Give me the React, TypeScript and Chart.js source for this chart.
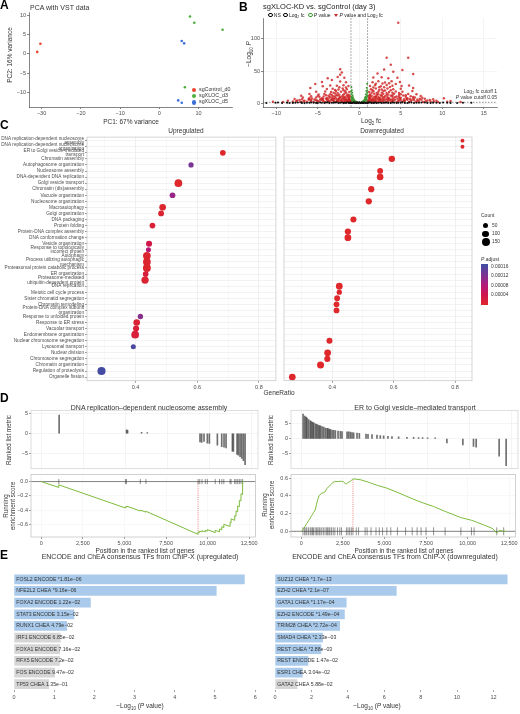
import React, { useEffect, useRef } from 'react';
import { Chart, registerables } from 'chart.js';

Chart.register(...registerables);

const FONT = '"Liberation Sans", Arial, Helvetica, sans-serif';
Chart.defaults.font.family = FONT;
Chart.defaults.color = '#4d4d4d';

/* ================= DATA ================= */

/* Panel A : PCA */
const pcaControlX = [-31.1, -30.3];
const pcaControlY = [0.5, 2.6];
const pcaD3X = [7.8, 8.9, 16.1, 6.5];
const pcaD3Y = [9.6, 8.0, 6.2, -8.6];
const pcaD5X = [5.7, 6.3, 4.8, 5.7];
const pcaD5Y = [3.3, 2.7, -12.0, -12.6];
const pcaXTicks = [-30, -20, -10, 0, 10];
const pcaYTicks = [-10, -5, 0, 5, 10];
const pcaGroups = ['sgControl_d0', 'sgXLOC_d3', 'sgXLOC_d5'];

/* Panel B : volcano  [log2 fc, -log10 P] */
const volcanoNS: [number, number][] = [
  [-11.2, 0.3], [-10.1, 0.6], [-9.3, 0.2], [-8.7, 0.8], [-8.0, 0.4], [-7.4, 1.0], [-6.9, 0.3], [-6.3, 0.7],
  [-5.8, 1.1], [-5.2, 0.4], [-4.7, 0.9], [-4.2, 0.2], [-3.8, 1.2], [-3.3, 0.5], [-2.9, 0.9], [-2.5, 0.3],
  [-2.1, 1.1], [-1.8, 0.6], [-1.5, 1.0], [-1.2, 0.2], [-0.9, 0.8], [-0.7, 1.2], [-0.5, 0.4], [-0.3, 1.0],
  [-0.1, 0.2], [0.1, 0.7], [0.3, 1.1], [0.5, 0.3], [0.7, 0.9], [0.9, 0.5], [1.2, 1.2], [1.5, 0.4],
  [1.8, 0.8], [2.1, 0.2], [2.5, 1.0], [2.9, 0.5], [3.3, 1.1], [3.8, 0.3], [4.2, 0.8], [4.7, 0.5],
  [5.2, 1.2], [5.8, 0.3], [6.3, 0.9], [6.9, 0.5], [7.5, 1.1], [8.2, 0.4], [8.9, 0.8], [9.7, 0.2],
  [10.6, 0.6], [11.8, 0.3], [13.5, 0.5], [-0.6, 0.6], [-0.2, 0.9], [0.2, 0.4], [0.6, 0.6], [-0.4, 0.1],
  [0.4, 0.2], [-1.0, 0.4], [1.0, 0.1],
  [-9.8, 0.9], [-8.4, 0.2], [-7.7, 0.6], [-7.0, 1.2], [-6.6, 0.1], [-6.0, 0.5], [-5.5, 0.8], [-5.0, 0.1],
  [-4.5, 0.6], [-4.0, 1.0], [-3.6, 0.1], [-3.1, 0.8], [-2.7, 1.2], [-2.3, 0.6], [-1.9, 0.1], [-1.6, 0.4],
  [-1.3, 0.8], [-1.1, 1.1], [-0.8, 0.2], [-0.5, 0.9], [-0.3, 0.5], [0.0, 1.2], [0.3, 0.6], [0.5, 1.0],
  [0.8, 0.2], [1.1, 0.7], [1.4, 1.0], [1.7, 0.3], [2.0, 1.1], [2.3, 0.6], [2.7, 0.2], [3.1, 0.8],
  [3.5, 0.4], [4.0, 1.1], [4.5, 0.2], [5.0, 0.8], [5.5, 0.4], [6.0, 1.0], [6.6, 0.2], [7.2, 0.6],
  [7.9, 0.9], [8.6, 0.2], [9.3, 0.5], [10.1, 0.9], [11.0, 0.4], [12.5, 0.7], [-0.95, 0.3], [0.95, 0.9],
  [-0.15, 0.6], [0.15, 0.3],
];
const volcanoP: [number, number][] = [
  [-0.95, 25], [-0.9, 20], [-0.85, 16], [-0.8, 12], [-0.75, 9], [-0.7, 7], [-0.65, 5], [-0.6, 4],
  [-0.5, 3], [-0.4, 2.4], [-0.3, 1.8], [-0.95, 14], [-0.9, 10], [-0.85, 8], [-0.8, 6], [-0.7, 4.5],
  [-0.6, 3], [-0.5, 2], [-0.9, 6], [-0.95, 8], [-0.98, 18], [-0.75, 3.5], [-0.88, 4],
  [0.95, 30], [0.9, 24], [0.85, 19], [0.8, 14], [0.75, 10], [0.7, 8], [0.65, 6], [0.6, 4.5],
  [0.5, 3.2], [0.4, 2.5], [0.3, 1.9], [0.95, 16], [0.9, 12], [0.85, 9], [0.8, 7], [0.7, 5],
  [0.6, 3.3], [0.5, 2.2], [0.9, 6.5], [0.97, 20], [0.75, 4], [0.88, 4.5], [0.99, 11],
];
const volcanoBoth: [number, number][] = [
  [-1.2, 1.6], [-1.5, 2.3], [-1.9, 1.8], [-2.4, 2.6], [-2.9, 1.7], [-3.5, 2.4], [-4.1, 1.9], [-4.8, 2.7],
  [-5.5, 1.6], [-6.3, 2.2], [-7.1, 1.8], [-8.0, 2.5], [-9.2, 1.7], [-10.4, 2.1],
  [-1.1, 3.8], [-1.4, 4.6], [-1.8, 3.5], [-2.2, 4.3], [-2.7, 3.6], [-3.2, 4.8], [-3.8, 3.9], [-4.4, 4.4],
  [-5.1, 3.7], [-5.8, 4.9], [-6.6, 3.8], [-7.5, 4.2], [-8.6, 3.6],
  [-1.3, 6.2], [-1.7, 5.6], [-2.0, 6.8], [-2.5, 5.9], [-3.0, 6.5], [-3.4, 5.7], [-4.0, 6.9], [-4.7, 6.1],
  [-5.4, 5.8], [-6.1, 6.6], [-6.9, 5.9], [-7.8, 6.4],
  [-1.2, 8.4], [-1.6, 7.7], [-1.9, 9.1], [-2.3, 8.2], [-2.8, 7.6], [-3.3, 8.9], [-3.9, 8.0], [-4.5, 7.5],
  [-5.2, 8.6], [-6.0, 7.9], [-6.8, 8.8],
  [-1.1, 10.6], [-1.5, 11.4], [-2.1, 10.2], [-2.6, 11.8], [-3.1, 10.7], [-3.7, 11.5], [-4.3, 10.4],
  [-5.0, 11.2], [-5.8, 10.8], [-7.0, 11.6],
  [-1.4, 13.5], [-1.8, 14.6], [-2.4, 13.2], [-2.9, 14.9], [-3.5, 13.8], [-4.2, 14.4], [-4.9, 13.6], [-6.0, 14.2],
  [-1.2, 17.2], [-1.7, 18.4], [-2.2, 17.6], [-2.8, 18.9], [-3.4, 17.4], [-4.1, 18.1], [-5.2, 17.8], [-5.9, 23.5],
  [-1.5, 21.6], [-2.0, 22.8], [-2.5, 21.2], [-3.2, 22.4], [-3.9, 21.9], [-5.3, 29.7],
  [-1.3, 26.5], [-1.9, 27.8], [-2.7, 26.9], [-3.5, 27.4], [-4.4, 26.2],
  [-1.6, 32.4], [-2.3, 33.6], [-3.3, 36.0], [-4.5, 32.8],
  [-1.8, 39.5], [-2.6, 40.8], [-3.8, 38.9],
  [-2.3, 44.0], [-2.1, 47.5], [-2.3, 52.7],
  [-1.05, 2.9], [-1.35, 3.2], [-1.65, 2.8], [-2.05, 3.1], [-2.55, 3.3], [-3.05, 2.9], [-3.65, 3.2], [-4.3, 2.9],
  [-5.0, 3.3], [-5.8, 2.9], [-6.7, 3.1], [-7.6, 2.9],
  [-1.15, 5.1], [-1.55, 4.9], [-2.15, 5.3], [-2.65, 4.8], [-3.25, 5.2], [-3.85, 4.9], [-4.55, 5.4], [-5.25, 4.8],
  [-6.05, 5.3], [-7.2, 5.0],
  [-1.25, 7.1], [-1.85, 6.9], [-2.45, 7.2], [-3.15, 7.0], [-3.7, 7.3], [-4.35, 6.8], [-5.7, 7.1],
  [-1.35, 9.6], [-1.75, 10.0], [-2.35, 9.7], [-2.95, 9.9], [-3.55, 9.5], [-4.8, 9.8],
  [-1.25, 12.4], [-1.95, 12.6], [-2.75, 12.3], [-3.3, 12.8], [-4.0, 12.2],
  [-1.6, 16.0], [-2.6, 15.8], [-3.1, 16.3], [-1.9, 20.0], [-2.9, 20.3], [-1.6, 24.2], [-2.4, 24.6],
  [1.2, 1.7], [1.6, 2.4], [2.1, 1.9], [2.6, 2.6], [3.2, 1.6], [3.8, 2.3], [4.5, 1.8], [5.2, 2.5],
  [6.0, 1.7], [6.8, 2.2], [7.7, 1.9], [8.6, 2.4], [9.5, 1.6], [10.6, 2.0], [12.2, 1.8],
  [1.1, 3.9], [1.5, 4.5], [1.9, 3.6], [2.4, 4.8], [2.9, 3.8], [3.5, 4.4], [4.1, 3.7], [4.8, 4.6],
  [5.5, 3.9], [6.3, 4.7], [7.2, 3.6], [8.2, 4.3], [9.3, 3.8],
  [1.3, 6.3], [1.7, 5.7], [2.2, 6.9], [2.7, 5.9], [3.3, 6.6], [3.9, 5.6], [4.6, 6.8], [5.4, 6.0],
  [6.1, 6.5], [7.0, 5.8], [7.9, 6.7], [8.9, 6.1],
  [1.2, 8.5], [1.6, 7.8], [2.0, 9.2], [2.5, 8.1], [3.0, 8.8], [3.6, 7.6], [4.3, 9.0], [5.0, 8.3],
  [5.8, 7.7], [6.7, 8.9], [7.6, 8.2], [10.2, 7.8],
  [1.1, 10.7], [1.5, 11.6], [2.0, 10.3], [2.6, 11.9], [3.1, 10.8], [3.8, 11.4], [4.5, 10.5], [5.3, 11.7],
  [6.2, 10.9], [7.4, 11.3],
  [1.3, 13.4], [1.8, 14.7], [2.3, 13.9], [2.9, 14.5], [3.5, 13.3], [4.2, 14.8], [5.0, 13.7], [5.9, 14.3], [6.9, 13.8],
  [1.2, 17.3], [1.7, 18.5], [2.3, 17.8], [2.9, 18.9], [3.6, 17.5], [4.4, 18.3], [5.2, 17.6], [6.4, 18.7],
  [1.4, 21.7], [2.0, 22.9], [2.7, 21.4], [3.4, 22.6], [4.1, 21.8], [5.0, 22.3], [6.5, 23.5],
  [1.3, 26.6], [1.9, 27.9], [2.6, 26.3], [3.3, 28.2], [4.0, 27.1], [5.1, 26.8], [6.0, 27.5],
  [1.6, 32.6], [2.3, 33.9], [3.1, 32.2], [3.9, 34.1], [4.9, 33.0],
  [1.7, 40.0], [2.7, 40.2], [3.5, 38.7], [4.6, 39.6],
  [2.2, 46.1], [4.1, 49.0], [6.5, 45.5],
  [3.0, 52.4], [5.2, 51.6], [3.8, 59.8], [3.3, 70.6], [5.9, 70.6], [4.7, 125],
  [1.05, 2.9], [1.4, 3.2], [1.8, 2.8], [2.3, 3.1], [2.8, 3.3], [3.4, 2.9], [4.0, 3.2], [4.7, 2.9],
  [5.4, 3.3], [6.2, 2.9], [7.0, 3.1], [8.0, 2.9], [9.0, 3.0], [11.0, 3.2],
  [1.15, 5.1], [1.6, 4.9], [2.05, 5.3], [2.5, 4.8], [3.1, 5.2], [3.7, 4.9], [4.3, 5.4], [5.0, 4.8],
  [5.8, 5.3], [6.6, 5.0], [7.5, 5.2], [8.5, 4.9],
  [1.25, 7.1], [1.9, 6.9], [2.4, 7.3], [2.9, 7.0], [3.5, 7.2], [4.1, 6.8], [4.9, 7.2], [5.7, 6.9],
  [6.5, 7.1], [7.3, 6.9],
  [1.35, 9.6], [1.8, 10.0], [2.3, 9.7], [2.8, 9.9], [3.4, 9.5], [4.0, 10.1], [4.8, 9.6], [5.6, 9.9], [6.5, 9.6],
  [1.25, 12.4], [2.1, 12.6], [2.7, 12.3], [3.3, 12.8], [4.0, 12.2], [4.8, 12.7], [5.6, 12.4],
  [1.5, 16.0], [2.1, 15.8], [2.7, 16.3], [3.3, 15.9], [4.0, 16.2], [4.8, 15.7],
  [1.6, 20.0], [2.4, 20.3], [3.1, 19.8], [3.8, 20.1], [1.7, 24.2], [2.4, 24.6], [3.0, 24.8], [3.7, 25.0],
  [2.0, 30.0], [2.8, 30.5], [3.6, 31.0], [4.4, 29.8],
];
const volcanoXTicks = [-10, -5, 0, 5, 10, 15];
const volcanoYTicks = [0, 50, 100];
const fcCutoff = 1;
const pCutoffLog = 1.3;

/* Panel C : GO dot plot */
const goTerms: string[][] = [
  ['DNA replication-dependent nucleosome', 'assembly'],
  ['DNA replication-dependent nucleosome', 'organization'],
  ['ER to Golgi vesicle-mediated', 'transport'],
  ['Chromatin assembly'],
  ['Autophagosome organization'],
  ['Nucleosome assembly'],
  ['DNA-dependent DNA replication'],
  ['Golgi vesicle transport'],
  ['Chromatin (dis)assembly'],
  ['Vacuole organization'],
  ['Nucleosome organization'],
  ['Macroautophagy'],
  ['Golgi organization'],
  ['DNA packaging'],
  ['Protein folding'],
  ['Protein-DNA complex assembly'],
  ['DNA conformation change'],
  ['Vesicle organization'],
  ['Response to topologically', 'incorrect protein'],
  ['Autophagy'],
  ['Process utilizing autophagic', 'mechanism'],
  ['Proteasomal protein catabolic process'],
  ['ER organization'],
  ['Proteasome-mediated', 'ubiquitin-dependent protein'],
  ['DNA replication'],
  ['Meiotic cell cycle process'],
  ['Sister chromatid segregation'],
  ['Chromatin remodeling'],
  ['Protein-DNA complex subunit', 'organization'],
  ['Response to unfolded protein'],
  ['Response to ER stress'],
  ['Vacuolar transport'],
  ['Endomembrane organization'],
  ['Nuclear chromosome segregation'],
  ['Lysosomal transport'],
  ['Nuclear division'],
  ['Chromosome segregation'],
  ['Chromatin organization'],
  ['Regulation of proteolysis'],
  ['Organelle fission'],
];
const upRow = [2, 4, 7, 9, 11, 12, 14, 17, 18, 19, 20, 21, 22, 23, 29, 30, 31, 32, 34, 38];
const upRatio = [0.683, 0.58, 0.539, 0.52, 0.488, 0.483, 0.455, 0.444, 0.442, 0.437, 0.437, 0.437, 0.433, 0.431, 0.416, 0.404, 0.402, 0.399, 0.393, 0.29];
const upCount = [60, 45, 140, 60, 95, 65, 60, 75, 40, 140, 140, 150, 60, 125, 50, 95, 75, 140, 40, 160];
const upPadj = [2e-6, 1.25e-4, 1e-6, 1.0e-4, 5e-6, 8e-6, 1.2e-5, 3.5e-5, 7.5e-5, 5e-6, 5e-6, 4e-6, 2e-5, 8e-6, 1.15e-4, 1e-5, 1.5e-5, 1.5e-5, 1.6e-4, 1.65e-4];
const downRow = [0, 1, 3, 5, 6, 8, 10, 13, 15, 16, 24, 25, 26, 27, 28, 33, 35, 36, 37, 39];
const downRatio = [0.824, 0.824, 0.594, 0.556, 0.556, 0.527, 0.519, 0.469, 0.451, 0.451, 0.423, 0.423, 0.416, 0.414, 0.414, 0.391, 0.385, 0.384, 0.362, 0.27];
const downCount = [10, 10, 85, 65, 95, 80, 80, 75, 80, 100, 100, 45, 65, 65, 65, 70, 100, 75, 110, 100];
const downPadj = [1e-6, 1e-6, 1e-7, 1e-6, 1e-7, 1e-7, 1e-7, 2e-7, 1e-7, 1e-7, 1e-6, 2e-6, 1e-6, 1e-6, 1e-6, 1e-6, 1e-6, 1e-6, 1e-6, 2e-6];
const goXTicks = [0.3, 0.4, 0.5, 0.6, 0.7, 0.8];
const goXLabelled = [0.4, 0.6, 0.8];
const countLegend = [50, 100, 150];
const padjLegend = ['0.00016', '0.00012', '0.00008', '0.00004'];

/* Panel D : GSEA */
const gseaXTicks = [0, 2500, 5000, 7500, 10000, 12500];
const leftHitPos = [1052, 5059, 5119, 5952, 6289, 9424, 9523, 9662, 9860, 9980, 10456, 10714, 10852, 10972, 11348, 11408, 11626, 11706, 11805, 11904, 12003, 12102];
const leftHitMetric = [4.6, 0.9, 0.8, 0.3, 0.2, -2.1, -2.2, -2.0, -2.4, -2.5, -2.9, -3.3, -3.4, -3.6, -4.4, -4.5, -5.2, -5.4, -5.8, -6.2, -6.8, -7.8];
const leftResX = [0, 1052, 1052, 5059, 5059, 5119, 5119, 5952, 5952, 6289, 6289, 9424, 9424, 9523, 9523, 9662, 9662, 9860, 9860, 9980, 9980, 10456, 10456, 10714, 10714, 10852, 10852, 10972, 10972, 11348, 11348, 11408, 11408, 11626, 11626, 11706, 11706, 11805, 11805, 11904, 11904, 12003, 12003, 12102, 12102, 12150];
const leftResY = [0, -0.082, -0.046, -0.368, -0.352, -0.357, -0.342, -0.41, -0.398, -0.426, -0.414, -0.735, -0.7, -0.708, -0.69, -0.7, -0.685, -0.7, -0.68, -0.69, -0.67, -0.71, -0.68, -0.7, -0.66, -0.672, -0.628, -0.64, -0.595, -0.625, -0.57, -0.575, -0.52, -0.54, -0.475, -0.482, -0.41, -0.42, -0.34, -0.35, -0.26, -0.27, -0.17, -0.18, 0, 0];
const leftPeak = { x: 9424, y: -0.735 };

const rightHitPos = [99, 198, 277, 336, 435, 534, 593, 673, 732, 831, 910, 989, 1068, 1127, 1226, 1325, 1424, 1523, 1582, 1661, 1721, 1820, 1919, 2018, 2176, 2314, 2413, 2710, 2809, 2908, 3007, 3105, 3303, 3442, 3837, 3956, 4193, 4490, 4688, 4886, 5143, 5380, 5776, 6270, 6666, 6962, 7200, 7497, 7952, 8644, 9593, 10226, 10385, 11749, 12165];
const rightHitMetric = [8.2, 7.6, 7.2, 6.9, 6.4, 6.0, 5.7, 5.5, 5.3, 5.0, 4.8, 4.6, 4.4, 4.3, 4.1, 3.9, 3.6, 3.5, 3.4, 3.2, 3.1, 2.9, 2.8, 2.7, 2.6, 2.5, 2.4, 2.3, 2.3, 2.2, 2.1, 2.0, 1.9, 1.8, 1.6, 1.5, 1.4, 1.2, 1.1, 1.0, 0.8, 0.7, 0.6, 0.5, 0.45, 0.4, 0.4, 0.3, 0.3, -1.4, -2.1, -2.6, -2.8, -5.8, -9.0];
const rightResX = [0, 99, 198, 336, 435, 534, 633, 732, 831, 910, 989, 1068, 1127, 1226, 1325, 1424, 1523, 1622, 1721, 1820, 1919, 2018, 2215, 2413, 2512, 2611, 2710, 2809, 2908, 3007, 3105, 3303, 3600, 4100, 4589, 5100, 5578, 6270, 6962, 7556, 7952, 8644, 9593, 10226, 10523, 11000, 11512, 11749, 11908, 12165, 12300];
const rightResY = [0, 0.02, 0.05, 0.09, 0.12, 0.15, 0.18, 0.21, 0.24, 0.3, 0.36, 0.4, 0.415, 0.43, 0.435, 0.445, 0.48, 0.5, 0.517, 0.535, 0.555, 0.56, 0.562, 0.565, 0.56, 0.545, 0.536, 0.55, 0.56, 0.574, 0.592, 0.588, 0.58, 0.55, 0.517, 0.49, 0.455, 0.4, 0.345, 0.305, 0.28, 0.225, 0.155, 0.125, 0.105, 0.07, 0.03, -0.02, 0.011, 0, 0];
const rightPeak = { x: 3105, y: 0.592 };

/* Panel E : enrichment bars */
const tfUpLabels = ['FOSL2 ENCODE *1.81e\u221206', 'NFE2L2 CHEA *9.16e\u221206', 'FOXA2 ENCODE 1.22e\u221202', 'STAT3 ENCODE 3.15e\u221202', 'RUNX1 CHEA 4.79e\u221202', 'IRF1 ENCODE 6.85e\u221202', 'FOXA1 ENCODE 7.16e\u221202', 'RFX5 ENCODE 7.2e\u221202', 'FOS ENCODE 9.47e\u221202', 'TP53 CHEA 1.35e\u221201'];
const tfUpValues = [5.74, 5.04, 1.91, 1.5, 1.32, 1.16, 1.145, 1.14, 1.02, 0.87];
const tfUpSig = [true, true, true, true, true, false, false, false, false, false];
const tfDownLabels = ['SUZ12 CHEA *1.7e\u221213', 'EZH2 CHEA *2.1e\u221207', 'GATA1 CHEA *1.17e\u221204', 'EZH2 ENCODE *1.49e\u221204', 'TRIM28 CHEA *2.72e\u221204', 'SMAD4 CHEA *2.33e\u221203', 'REST CHEA *2.88e\u221203', 'REST ENCODE 1.47e\u221202', 'ESR1 CHEA 3.04e\u221202', 'GATA2 CHEA 5.88e\u221202'];
const tfDownValues = [12.77, 6.68, 3.93, 3.83, 3.57, 2.63, 2.54, 1.83, 1.52, 1.23];
const tfDownSig = [true, true, true, true, true, true, true, true, true, false];
const tfUpTicks = [0, 1, 2, 3, 4, 5, 6];
const tfDownTicks = [0, 2, 4, 6, 8, 10, 12];

/* ================= STYLE / HELPERS ================= */
const COL_CTRL = '#E8452E';
const COL_D3 = '#4FAE3E';
const COL_D5 = '#3D6FDB';
const GSEA_GREEN = '#7DBB3C';
const BAR_BLUE = '#A9CAEB';
const BAR_GREY = '#D6D6D6';

const minus = (v: number, d = 0) => (v < 0 ? '\u2212' : '') + Math.abs(v).toFixed(d);
const fixedTicks = (vals: number[]) => (scale: any) => {
  scale.ticks = vals.map((v) => ({ value: v }));
};
const toXY = (arr: [number, number][]) => arr.map(([x, y]) => ({ x, y }));

const padjStops: [number, number[]][] = [
  [0, [222, 40, 42]],
  [0.00004, [206, 20, 78]],
  [0.00008, [178, 26, 122]],
  [0.00012, [126, 50, 146]],
  [0.00017, [62, 78, 164]],
];
function padjColor(p: number) {
  for (let i = 0; i < padjStops.length - 1; i++) {
    const [a, ca] = padjStops[i];
    const [b, cb] = padjStops[i + 1];
    if (p <= b) {
      const t = Math.max(0, (p - a) / (b - a));
      const c = ca.map((v, k) => Math.round(v + (cb[k] - v) * t));
      return `rgb(${c[0]},${c[1]},${c[2]})`;
    }
  }
  const c = padjStops[padjStops.length - 1][1];
  return `rgb(${c[0]},${c[1]},${c[2]})`;
}
const sizeOf = (count: number) => Math.sqrt(3 + 0.085 * count);

function lin(o: any) {
  return {
    type: 'linear',
    min: o.min,
    max: o.max,
    reverse: !!o.reverse,
    offset: false,
    afterBuildTicks: fixedTicks(o.ticks),
    afterFit: (s: any) => {
      if (o.horiz) s.height = o.fit;
      else s.width = o.fit;
    },
    ticks: {
      display: o.labels !== false,
      autoSkip: false,
      maxRotation: 0,
      minRotation: 0,
      padding: o.pad ?? 1,
      font: { size: o.size ?? 5.5, lineHeight: o.lh ?? 1.2 },
      color: '#4d4d4d',
      callback: o.fmt ?? ((v: number) => minus(v)),
    },
    grid: {
      display: true,
      offset: false,
      drawOnChartArea: o.grid !== undefined,
      color: o.grid ?? 'transparent',
      lineWidth: 0.6,
      drawTicks: o.tickLen !== 0,
      tickLength: o.tickLen ?? 2,
      tickColor: o.tickColor ?? '#4d4d4d',
      tickWidth: 0.6,
    },
    border: { display: !!o.border, color: o.border ?? 'transparent', width: 0.6 },
  };
}

const baseOpts = (padding: any) => ({
  animation: false,
  responsive: false,
  maintainAspectRatio: false,
  events: [],
  layout: { padding },
  plugins: { legend: { display: false }, tooltip: { enabled: false } },
});

const frame = (color: string) => ({
  id: 'frame',
  afterDatasetsDraw(chart: any) {
    const { ctx, chartArea: a } = chart;
    ctx.save();
    ctx.strokeStyle = color;
    ctx.lineWidth = 0.7;
    ctx.strokeRect(a.left, a.top, a.right - a.left, a.bottom - a.top);
    ctx.restore();
  },
});

type RL = { axis: 'x' | 'y'; v: number; from?: number; to?: number; color: string; dash?: number[]; w?: number };
const refLines = (lines: RL[]) => ({
  id: 'refLines',
  beforeDatasetsDraw(chart: any) {
    const { ctx, chartArea: a, scales } = chart;
    ctx.save();
    for (const l of lines) {
      ctx.beginPath();
      ctx.strokeStyle = l.color;
      ctx.lineWidth = l.w ?? 0.7;
      ctx.setLineDash(l.dash ?? []);
      if (l.axis === 'x') {
        const px = scales.x.getPixelForValue(l.v);
        const y1 = l.from !== undefined ? scales.y.getPixelForValue(l.from) : a.top;
        const y2 = l.to !== undefined ? scales.y.getPixelForValue(l.to) : a.bottom;
        ctx.moveTo(px, y1);
        ctx.lineTo(px, y2);
      } else {
        const py = scales.y.getPixelForValue(l.v);
        ctx.moveTo(a.left, py);
        ctx.lineTo(a.right, py);
      }
      ctx.stroke();
    }
    ctx.restore();
  },
});

const barText = (labels: string[]) => ({
  id: 'barText',
  afterDatasetsDraw(chart: any) {
    const { ctx } = chart;
    const meta = chart.getDatasetMeta(0);
    ctx.save();
    ctx.font = `5.2px ${FONT}`;
    ctx.fillStyle = '#333';
    ctx.textBaseline = 'middle';
    ctx.textAlign = 'left';
    meta.data.forEach((el: any, i: number) => ctx.fillText(labels[i], el.base + 2, el.y));
    ctx.restore();
  },
});

/* ================= CHART CONFIGS ================= */
const pcaConfig = () => ({
  type: 'scatter',
  data: {
    datasets: [
      { data: pcaControlX.map((x, i) => ({ x, y: pcaControlY[i] })), backgroundColor: COL_CTRL, pointRadius: 1.3, borderWidth: 0 },
      { data: pcaD3X.map((x, i) => ({ x, y: pcaD3Y[i] })), backgroundColor: COL_D3, pointRadius: 1.3, borderWidth: 0 },
      { data: pcaD5X.map((x, i) => ({ x, y: pcaD5Y[i] })), backgroundColor: COL_D5, pointRadius: 1.3, borderWidth: 0 },
    ],
  },
  options: {
    ...baseOpts({ top: 4, right: 24, left: 0, bottom: 0 }),
    scales: {
      x: lin({ min: -33.2, max: 18.5, ticks: pcaXTicks, horiz: true, fit: 13, border: '#333', tickColor: '#333' }),
      y: lin({ min: -13.7, max: 10.7, ticks: pcaYTicks, fit: 29, border: '#333', tickColor: '#333' }),
    },
  },
});

const volcanoConfig = () => ({
  type: 'scatter',
  data: {
    datasets: [
      { data: toXY(volcanoNS), backgroundColor: '#111', pointRadius: 1.05, borderWidth: 0 },
      { data: toXY(volcanoP), backgroundColor: '#3f9b35', pointRadius: 1.0, borderWidth: 0 },
      { data: toXY(volcanoBoth), backgroundColor: 'rgba(205,32,32,0.8)', pointRadius: 1.25, borderWidth: 0 },
    ],
  },
  options: {
    ...baseOpts({ top: 3, right: 23, left: 0, bottom: 0 }),
    scales: {
      x: lin({ min: -11.6, max: 16.6, ticks: volcanoXTicks, horiz: true, fit: 13, grid: '#ececec', border: '#333', tickColor: '#333' }),
      y: lin({ min: -6, max: 132, ticks: volcanoYTicks, fit: 23, grid: '#ececec', border: '#333', tickColor: '#333' }),
    },
  },
  plugins: [
    refLines([
      { axis: 'x', v: -fcCutoff, color: '#444', dash: [1.5, 1.5], w: 0.6 },
      { axis: 'x', v: fcCutoff, color: '#444', dash: [1.5, 1.5], w: 0.6 },
      { axis: 'y', v: pCutoffLog, color: '#444', dash: [1.5, 1.5], w: 0.6 },
    ]),
  ],
});

const isMajorC = (v: number) => goXLabelled.some((m) => Math.abs(m - v) < 1e-9);
const goConfig = (rows: number[], ratio: number[], count: number[], padj: number[], showLabels: boolean) => ({
  type: 'scatter',
  data: {
    datasets: [
      {
        data: rows.map((r, i) => ({ x: ratio[i], y: r })),
        pointRadius: count.map(sizeOf),
        backgroundColor: padj.map(padjColor),
        borderWidth: 0,
      },
    ],
  },
  options: {
    ...baseOpts({ top: 2.3, right: 2, left: showLabels ? 0 : 2, bottom: 0 }),
    scales: {
      x: lin({
        min: 0.243, max: 0.855, ticks: goXTicks, horiz: true, fit: 12.3,
        fmt: (v: number) => (isMajorC(v) ? v.toFixed(1) : ''),
        grid: (c: any) => (c.tick && isMajorC(c.tick.value) ? '#e6e6e6' : '#f3f3f3'),
        tickColor: (c: any) => (c.tick && isMajorC(c.tick.value) ? '#555' : 'rgba(0,0,0,0)'),
      }),
      y: lin({
        min: -0.6, max: 39.6, reverse: true, ticks: goTerms.map((_, i) => i),
        fit: showLabels ? 87 : 0, labels: showLabels, size: 4.7, lh: 1, pad: 1,
        fmt: (v: number) => {
          const t = goTerms[v];
          return t ? (t.length > 1 ? t : t[0]) : '';
        },
        grid: '#ebebeb', tickLen: showLabels ? 2 : 0, tickColor: '#555',
      }),
    },
  },
  plugins: [frame('#c4c4c4')],
});

const gseaTopConfig = (pos: number[], metric: number[], yMin: number, yMax: number) => ({
  type: 'bar',
  data: {
    datasets: [
      { data: pos.map((x, i) => ({ x, y: metric[i] })), backgroundColor: 'rgba(50,50,50,0.7)', barThickness: 1, borderWidth: 0 },
    ],
  },
  options: {
    ...baseOpts({ top: 4, right: 2, left: 0, bottom: 1 }),
    scales: {
      x: lin({ min: -620, max: 12870, ticks: gseaXTicks, horiz: true, fit: 0, labels: false, tickLen: 0, grid: '#ededed' }),
      y: lin({ min: yMin, max: yMax, ticks: [-5, 0, 5], fit: 31, grid: '#ededed', tickColor: '#555' }),
    },
  },
  plugins: [frame('#cfcfcf')],
});

const gseaBottomConfig = (
  resX: number[], resY: number[], hits: number[], yMin: number, yMax: number, yTicks: number[],
  peak: { x: number; y: number }, rugR: number,
) => ({
  type: 'scatter',
  data: {
    datasets: [
      { data: resX.map((x, i) => ({ x, y: resY[i] })), showLine: true, borderColor: GSEA_GREEN, borderWidth: 1, pointRadius: 0, tension: 0 },
      { data: hits.map((x) => ({ x, y: 0 })), pointStyle: 'line', pointRotation: 90, pointRadius: rugR, borderColor: 'rgba(30,30,30,0.8)', borderWidth: 0.6 },
    ],
  },
  options: {
    ...baseOpts({ top: 4, right: 2, left: 0, bottom: 0 }),
    scales: {
      x: lin({ min: -620, max: 12870, ticks: gseaXTicks, horiz: true, fit: 21, fmt: (v: number) => v.toLocaleString('en-US'), grid: '#f3f3f3', tickColor: '#555' }),
      y: lin({ min: yMin, max: yMax, ticks: yTicks, fit: 31, fmt: (v: number) => minus(v, 1), grid: '#f3f3f3', tickColor: '#555' }),
    },
  },
  plugins: [
    refLines([
      { axis: 'y', v: 0, color: '#666', w: 0.8 },
      { axis: 'x', v: peak.x, from: 0, to: peak.y, color: '#e0504a', dash: [1, 1.2], w: 0.7 },
    ]),
    frame('#bdbdbd'),
  ],
});

const tfConfig = (labels: string[], vals: number[], sig: boolean[], max: number, ticks: number[], padL: number, padR: number) => ({
  type: 'bar',
  data: {
    labels,
    datasets: [
      { data: vals, backgroundColor: sig.map((s) => (s ? BAR_BLUE : BAR_GREY)), barPercentage: 0.84, categoryPercentage: 1, borderWidth: 0 },
    ],
  },
  options: {
    ...baseOpts({ top: 3.5, left: padL, right: padR, bottom: 0 }),
    indexAxis: 'y',
    scales: {
      x: lin({ min: 0, max, ticks, horiz: true, fit: 24, pad: 2, fmt: (v: number) => String(v), tickColor: '#666' }),
      y: { type: 'category', display: false, offset: true },
    },
  },
  plugins: [barText(labels)],
});

/* ================= COMPONENTS ================= */
function ChartBox({ x, y, w, h, make }: { x: number; y: number; w: number; h: number; make: () => any }) {
  const ref = useRef<HTMLCanvasElement>(null);
  useEffect(() => {
    const chart = new Chart(ref.current as HTMLCanvasElement, make());
    return () => chart.destroy();
  }, []);
  return <canvas ref={ref} width={w} height={h} style={{ position: 'absolute', left: x, top: y, width: w, height: h }} />;
}

function T({ x, y, s = 6, a = 'l', b = false, r = false, c = '#333', it = false, children }: any) {
  const tx = r ? '-50%' : a === 'c' ? '-50%' : a === 'r' ? '-100%' : '0';
  return (
    <div
      style={{
        position: 'absolute', left: x, top: y,
        transform: `translate(${tx}, -50%)${r ? ' rotate(-90deg)' : ''}`,
        fontSize: s, lineHeight: 1.1, fontFamily: FONT, fontWeight: b ? 700 : 400,
        fontStyle: it ? 'italic' : 'normal', color: c, whiteSpace: 'nowrap', textAlign: 'center',
      }}
    >
      {children}
    </div>
  );
}
const Sub = ({ children }: any) => <span style={{ fontSize: '0.68em', position: 'relative', top: '0.35em' }}>{children}</span>;
const Ring = ({ c }: any) => (
  <span style={{ display: 'inline-block', width: 2.6, height: 2.6, border: `1.1px solid ${c}`, borderRadius: '50%', marginRight: 1.2 }} />
);
const Dot = ({ x, y, r, c }: any) => (
  <div style={{ position: 'absolute', left: x - r, top: y - r, width: 2 * r, height: 2 * r, borderRadius: '50%', background: c }} />
);

export default function App() {
  const pcaCols = [COL_CTRL, COL_D3, COL_D5];
  return (
    <div style={{ position: 'absolute', left: 0, top: 0, width: 520, height: 714, background: '#fff', overflow: 'hidden', fontFamily: FONT }}>
      {/* ---- A ---- */}
      <ChartBox x={0} y={8} w={256} h={112} make={pcaConfig} />
      <T x={0} y={6} s={12} b c="#000">A</T>
      <T x={30} y={7.5} s={7}>PCA with VST data</T>
      <T x={10} y={55} s={6.5} r>PC2: 16% variance</T>
      <T x={131} y={122} s={6.5} a="c">PC1: 67% variance</T>
      {pcaGroups.map((g, i) => (
        <React.Fragment key={g}>
          <Dot x={194.3} y={90 + i * 6.2} r={2.2} c={pcaCols[i]} />
          <T x={199} y={90 + i * 6.2} s={5.3}>{g}</T>
        </React.Fragment>
      ))}

      {/* ---- B ---- */}
      <ChartBox x={240} y={14} w={280} h={106} make={volcanoConfig} />
      <T x={239} y={7.5} s={12} b c="#000">B</T>
      <T x={263} y={7} s={7.5} c="#222">sgXLOC-KD vs. sgControl (day 3)</T>
      <div style={{ position: 'absolute', left: 268, top: 12, height: 6, display: 'flex', alignItems: 'center', fontSize: 5, fontFamily: FONT, color: '#222', whiteSpace: 'nowrap' }}>
        <Ring c="#000" /><span style={{ marginRight: 2.5 }}>NS</span>
        <Ring c="#000" /><span style={{ marginRight: 3.5 }}>Log<Sub>2</Sub> fc</span>
        <Ring c="#3f9b35" /><span style={{ marginRight: 3.5 }}><i>P</i> value</span>
        <span style={{ display: 'inline-block', width: 0, height: 0, borderLeft: '2px solid transparent', borderRight: '2px solid transparent', borderTop: '3.5px solid #d42626', marginRight: 1.5 }} />
        <span><i>P</i> value and Log<Sub>2</Sub> fc</span>
      </div>
      <T x={249} y={54} s={6.5} r>{'\u2212'}Log<Sub>10</Sub> <i>P</i></T>
      <T x={371} y={121} s={6.5} a="c">Log<Sub>2</Sub> fc</T>
      <T x={497} y={92} s={5} a="r">Log<Sub>2</Sub> fc cutoff 1</T>
      <T x={497} y={98.3} s={5} a="r"><i>P</i> value cutoff 0.05</T>

      {/* ---- C ---- */}
      <ChartBox x={0} y={133} w={280} h={260} make={() => goConfig(upRow, upRatio, upCount, upPadj, true)} />
      <ChartBox x={280} y={133} w={196} h={260} make={() => goConfig(downRow, downRatio, downCount, downPadj, false)} />
      <T x={0} y={126} s={12} b c="#000">C</T>
      <T x={186} y={131} s={6.5} a="c">Upregulated</T>
      <T x={382} y={131} s={6.5} a="c">Downregulated</T>
      <T x={279} y={393} s={6.5} a="c">GeneRatio</T>
      <T x={481} y={216} s={5}>Count</T>
      {countLegend.map((cnt, i) => (
        <React.Fragment key={cnt}>
          <Dot x={485.7} y={225.7 + i * 8.3} r={sizeOf(cnt)} c="#000" />
          <T x={492} y={225.7 + i * 8.3} s={4.8}>{cnt}</T>
        </React.Fragment>
      ))}
      <T x={481} y={259.7} s={5}><i>P</i>.adjust</T>
      <div style={{ position: 'absolute', left: 481, top: 264, width: 7, height: 41, background: 'linear-gradient(to bottom, #3E4EA4 0%, #7E3292 28%, #B21A7A 51%, #CE1450 74%, #DE282A 100%)' }} />
      {padjLegend.map((lbl, i) => (
        <T key={lbl} x={491} y={267 + i * 9.4} s={4.8}>{lbl}</T>
      ))}

      {/* ---- D ---- */}
      <ChartBox x={0} y={406} w={260} h={67} make={() => gseaTopConfig(leftHitPos, leftHitMetric, -8.8, 5.8)} />
      <ChartBox x={0} y={470} w={260} h={88} make={() => gseaBottomConfig(leftResX, leftResY, leftHitPos, -0.772, 0.097, [0, -0.2, -0.4, -0.6], leftPeak, 2.6)} />
      <ChartBox x={260} y={406} w={260} h={67} make={() => gseaTopConfig(rightHitPos, rightHitMetric, -10, 9.5)} />
      <ChartBox x={260} y={470} w={260} h={88} make={() => gseaBottomConfig(rightResX, rightResY, rightHitPos, -0.064, 0.64, [0, 0.2, 0.4, 0.6], rightPeak, 4)} />
      <T x={0} y={399} s={12} b c="#000">D</T>
      <T x={149} y={407.5} s={7} a="c">DNA replication–dependent nucleosome assembly</T>
      <T x={415} y={407.5} s={7} a="c">ER to Golgi vesicle–mediated transport</T>
      <T x={8.5} y={440} s={6.3} r>Ranked list metric</T>
      <T x={10} y={506} s={6.3} r>Running<br />enrichment score</T>
      <T x={271} y={440} s={6.3} r>Ranked list metric</T>
      <T x={269} y={505} s={6.3} r>Running<br />enrichment score</T>
      <T x={145} y={551} s={6.5} a="c">Position in the ranked list of genes</T>
      <T x={404} y={551} s={6.5} a="c">Position in the ranked list of genes</T>

      {/* ---- E ---- */}
      <ChartBox x={0} y={570} w={260} h={144} make={() => tfConfig(tfUpLabels, tfUpValues, tfUpSig, 6.03, tfUpTicks, 14, 3.6)} />
      <ChartBox x={260} y={570} w={260} h={144} make={() => tfConfig(tfDownLabels, tfDownValues, tfDownSig, 13.4, tfDownTicks, 15, 1)} />
      <T x={0} y={556} s={12} b c="#000">E</T>
      <T x={140} y={557} s={7} a="c">ENCODE and ChEA consensus TFs from ChIP-X (upregulated)</T>
      <T x={395} y={557} s={7} a="c">ENCODE and ChEA consensus TFs from ChIP-X (downregulated)</T>
      <T x={140} y={706} s={6.5} a="c">{'\u2212'}Log<Sub>10</Sub> (<i>P</i> value)</T>
      <T x={377} y={706} s={6.5} a="c">{'\u2212'}Log<Sub>10</Sub> (<i>P</i> value)</T>
    </div>
  );
}
